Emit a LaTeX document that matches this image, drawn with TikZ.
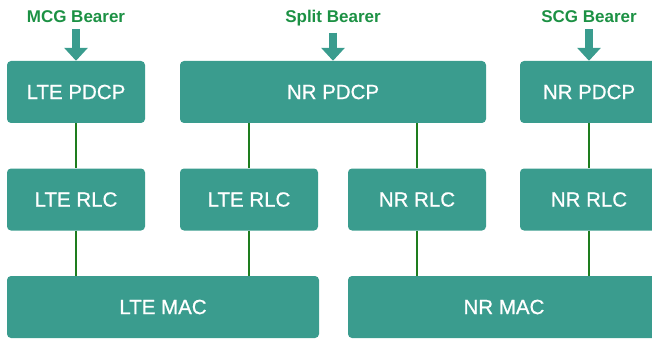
\documentclass[tikz,border=0pt]{standalone}
\usepackage{fontspec}
\setmainfont{Liberation Sans}
\newfontfamily\boxfont[FakeBold=0.6]{Liberation Sans}
\usetikzlibrary{arrows.meta}
\definecolor{boxteal}{RGB}{58,156,142}
\definecolor{labelgreen}{RGB}{28,145,68}
\definecolor{linkgreen}{RGB}{30,125,30}

\begin{document}
\begin{tikzpicture}[%
        x=1pt, y=-1pt,
        every node/.style={inner sep=0pt},
        layer/.style={rectangle, rounded corners=4pt, fill=boxteal, text=white, minimum height=62pt, font=\boxfont\fontsize{20.5}{24}\selectfont},
        small/.style={layer, minimum width=138pt},
        bearer/.style={text=labelgreen, font=\bfseries\fontsize{17}{20}\selectfont, anchor=base},
        link/.style={draw=linkgreen, line width=2pt},
        feed/.style={draw=boxteal, line width=8pt, -{Triangle[width=23pt,length=13pt]}, shorten <=6pt}
      ]
      \useasboundingbox (0,0) rectangle (652,339);
      \clip (0,0) rectangle (652,339);
      % bearer labels
      \node [] (mcg) [bearer] at (76,23) {MCG Bearer};
      \node [] (split) [bearer] at (333,23) {Split Bearer};
      \node [] (scg) [bearer] at (589,23) {SCG Bearer};
      % PDCP
      \node [] (ltepdcp) [small] at (76,92) {LTE PDCP};
      \node [] (splitpdcp) [layer, minimum width=306pt] at (333,92) {NR PDCP};
      \node [] (nrpdcp) [small] at (589,92) {NR PDCP};
      % RLC
      \node [] (lterlca) [small] at (76,199.5) {LTE RLC};
      \node [] (lterlcb) [small] at (249,199.5) {LTE RLC};
      \node [] (nrrlca) [small] at (417,199.5) {NR RLC};
      \node [] (nrrlcb) [small] at (589,199.5) {NR RLC};
      % MAC
      \node [] (ltemac) [layer, minimum width=312pt] at (163,307) {LTE MAC};
      \node [] (nrmac) [layer, minimum width=312pt] at (504,307) {NR MAC};
      \path (mcg) edge[feed] (ltepdcp)
      (split) edge[feed] (splitpdcp)
      (scg) edge[feed] (nrpdcp);
      \path (ltepdcp) edge[link] (lterlca)
      (lterlca) edge[link] (ltemac.north -| lterlca)
      (splitpdcp.south -| lterlcb) edge[link] (lterlcb)
      (lterlcb) edge[link] (ltemac.north -| lterlcb)
      (splitpdcp.south -| nrrlca) edge[link] (nrrlca)
      (nrrlca) edge[link] (nrmac.north -| nrrlca)
      (nrpdcp) edge[link] (nrrlcb)
      (nrrlcb) edge[link] (nrmac.north -| nrrlcb);
\end{tikzpicture}
\end{document}
